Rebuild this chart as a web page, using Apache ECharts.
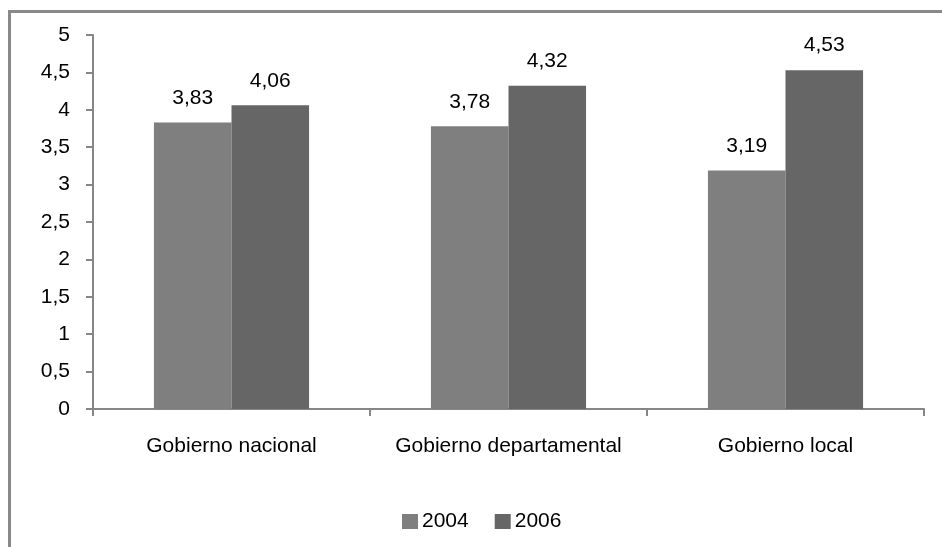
<!DOCTYPE html>
<html><head><meta charset="utf-8">
<script src="https://cdn.jsdelivr.net/npm/echarts@6/dist/echarts.min.js"></script>
<style>html,body{margin:0;padding:0;background:#fff}#c{width:942px;height:547px}</style>
</head><body><div id="c"></div>
<script>
const categories = ['Gobierno nacional', 'Gobierno departamental', 'Gobierno local'];
const values2004 = [3.83, 3.78, 3.19];
const values2006 = [4.06, 4.32, 4.53];
const yTicks = [0, 0.5, 1, 1.5, 2, 2.5, 3, 3.5, 4, 4.5, 5];

const fmt = v => String(v).replace('.', ',');
const chart = echarts.init(document.getElementById('c'));
const font = 'Liberation Sans, Arial, sans-serif';
chart.setOption({
  animation: false,
  textStyle: { fontFamily: font },
  graphic: [{ type: 'rect', shape: { x: 9.5, y: 11.5, width: 1000, height: 600 }, style: { fill: 'none', stroke: '#898989', lineWidth: 3 }, z: -1 }],
  grid: { left: 93, right: 18, top: 35, bottom: 138 },
  legend: {
    top: 506, left: 397, itemWidth: 16, itemHeight: 15, itemGap: 26,
    icon: 'rect',
    textStyle: { fontSize: 21, color: '#000', fontFamily: font, padding: [0, 0, 0, -1] }
  },
  xAxis: {
    type: 'category', data: categories,
    axisLine: { lineStyle: { color: '#868686', width: 2 } },
    axisTick: { show: true, alignWithLabel: false, length: 7, lineStyle: { color: '#868686', width: 2 } },
    axisLabel: { fontSize: 21, color: '#000', margin: 27, interval: 0, fontFamily: font }
  },
  yAxis: {
    type: 'value', min: yTicks[0], max: yTicks[yTicks.length - 1], interval: 0.5,
    axisLine: { show: true, lineStyle: { color: '#868686', width: 2 } },
    axisTick: { show: true, length: 7, lineStyle: { color: '#868686', width: 2 } },
    splitLine: { show: false },
    axisLabel: { fontSize: 21, color: '#000', margin: 23, fontFamily: font, formatter: v => fmt(v) }
  },
  series: [
    { name: '2004', type: 'bar', data: values2004, barGap: '0%', barCategoryGap: '44%',
      itemStyle: { color: '#7f7f7f' },
      label: { show: true, position: 'top', distance: 14, fontSize: 21, color: '#000', fontFamily: font, formatter: p => fmt(p.value) } },
    { name: '2006', type: 'bar', data: values2006,
      itemStyle: { color: '#666666' },
      label: { show: true, position: 'top', distance: 14, fontSize: 21, color: '#000', fontFamily: font, formatter: p => fmt(p.value) } }
  ]
});
</script></body></html>
